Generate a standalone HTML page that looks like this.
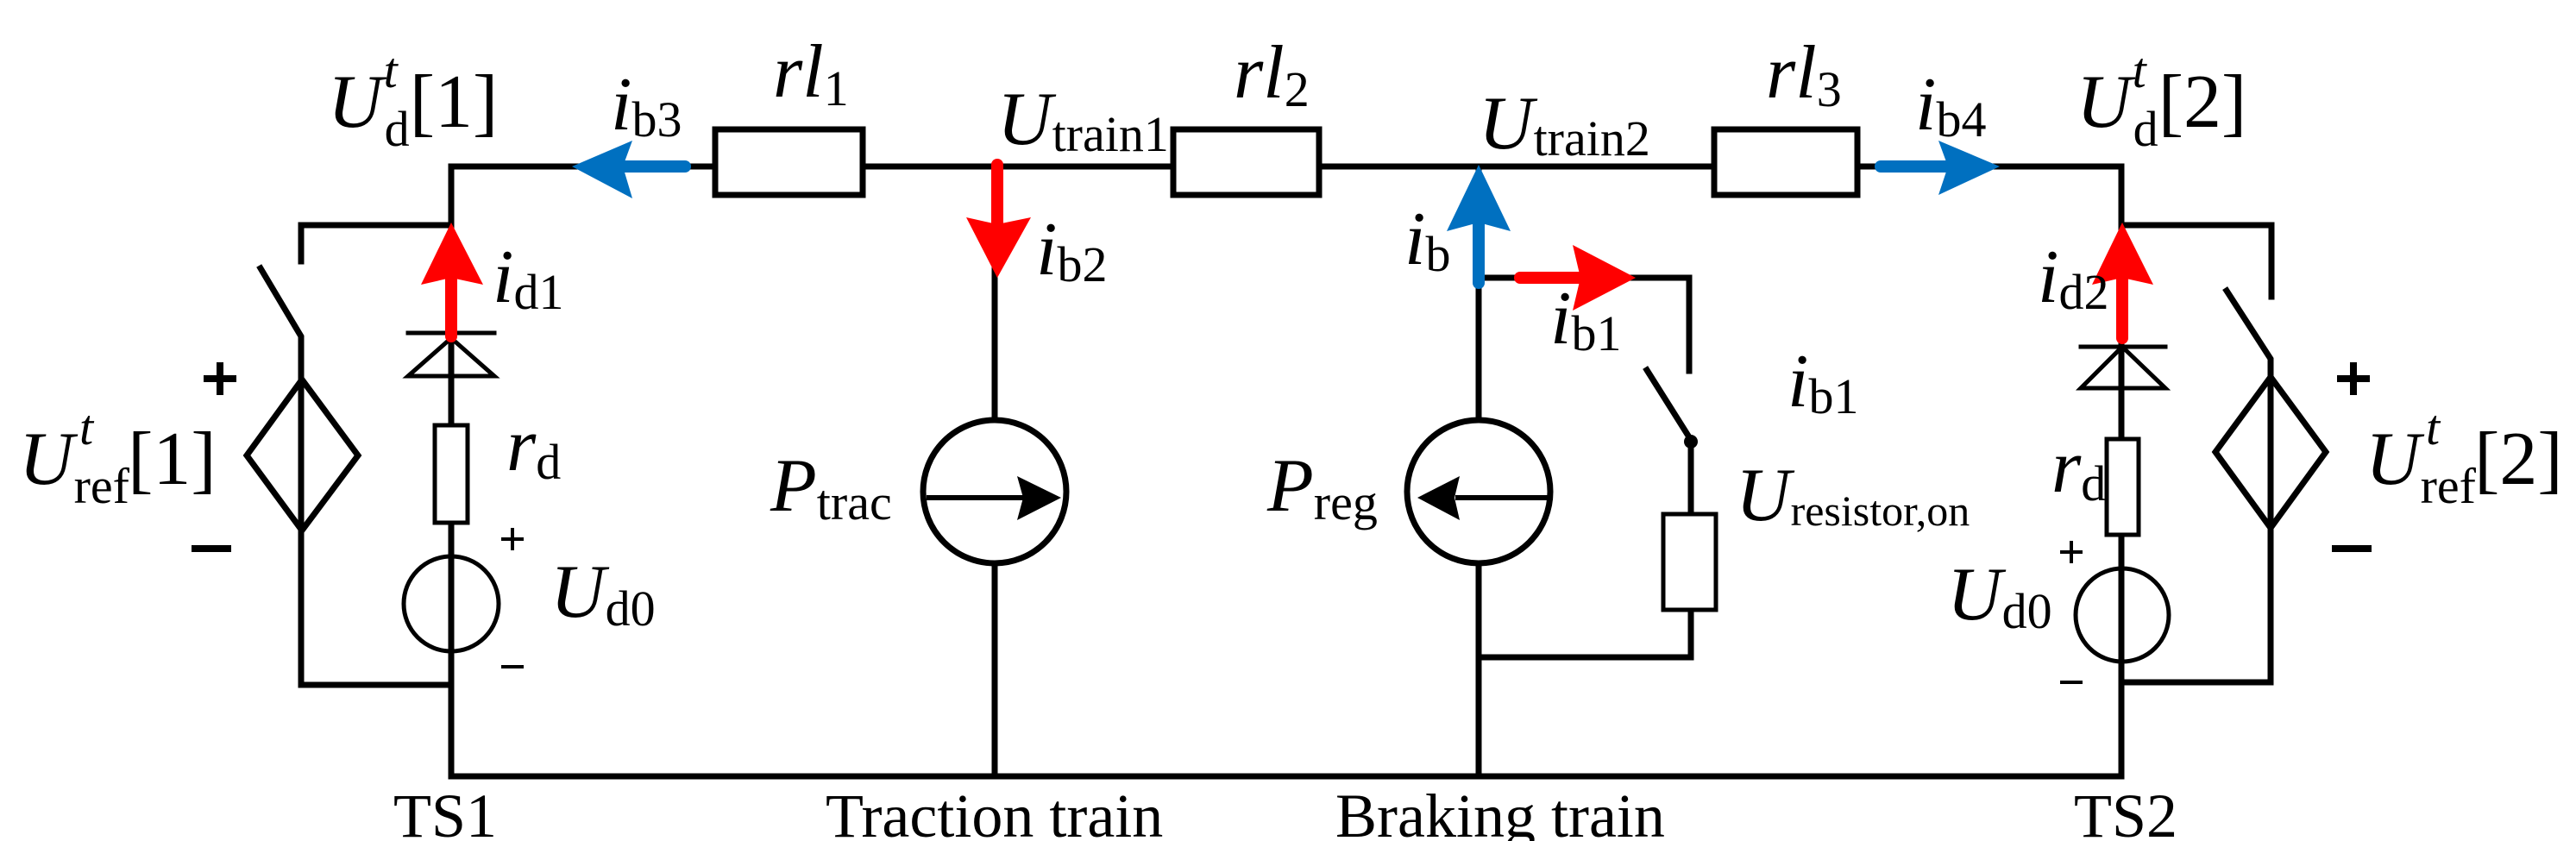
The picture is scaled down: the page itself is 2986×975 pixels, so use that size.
<!DOCTYPE html>
<html><head><meta charset="utf-8"><style>
html,body{margin:0;padding:0;background:#fff}
svg{display:block}
text{font-family:"Liberation Serif","DejaVu Serif",serif;fill:#000}
.i{font-style:italic}
</style></head><body>
<svg width="2986" height="975" viewBox="0 0 2986 975" xmlns="http://www.w3.org/2000/svg" font-family="Liberation Serif, DejaVu Serif, serif">
<g stroke="#000" stroke-width="7" fill="none" stroke-linecap="square">
<path d="M523 193 H829 M1000 193 H1360 M1529 193 H1987 M2153 193 H2459"/>
<rect x="829" y="150" width="171" height="76" fill="#fff"/>
<rect x="1360" y="150" width="169" height="76" fill="#fff"/>
<rect x="1987" y="150" width="166" height="76" fill="#fff"/>
<path d="M523 193 V900 H2459 V193"/>
<path d="M1153 193 V900 M1714 193 V900"/>
<path d="M523 261 H349 V303 M302 311 L349 390 V794 H523"/>
<polygon points="350,440 415,528 350,615 286,528"/>
<path d="M240 439 H270 M255 424 V454" stroke-width="8"/>
<path d="M226 636 H264" stroke-width="8"/>
<path d="M523 392 L573 436 H473 Z" stroke-width="5"/>
<path d="M473 386 H573" stroke-width="5"/>
<rect x="504" y="493" width="38" height="113" fill="#fff" stroke-width="5"/>
<circle cx="523" cy="700" r="55" fill="none" stroke-width="5"/>
<path d="M583 625 H605 M594 614 V636 M583 773 H605" stroke-width="4"/>
<path d="M2459 261 H2633 V344 M2581 337 L2632 416 V791 H2459"/>
<polygon points="2632,437 2696,524 2632,612 2568,524"/>
<path d="M2713 439 H2743 M2728 424 V454" stroke-width="8"/>
<path d="M2707 636 H2745" stroke-width="8"/>
<path d="M2460 402 L2510 450 H2412 Z" stroke-width="5"/>
<path d="M2412 402 H2510" stroke-width="5"/>
<rect x="2442" y="509" width="37" height="111" fill="#fff" stroke-width="5"/>
<circle cx="2460" cy="713" r="54" fill="none" stroke-width="5"/>
<path d="M2390 640 H2412 M2401 629 V651 M2390 791 H2412" stroke-width="4"/>
<circle cx="1153" cy="570" r="83" fill="#fff"/>
<path d="M1077 577 H1185" stroke-width="6"/>
<circle cx="1714" cy="570" r="83" fill="#fff"/>
<path d="M1690 577 H1797" stroke-width="6"/>
<path d="M1714 322 H1958 V430 M1909 429 L1960 510 V596 M1960 707 V762 H1714"/>
<rect x="1928" y="596" width="61" height="111" fill="#fff" stroke-width="5"/>
</g>
<circle cx="1960" cy="512" r="8" fill="#000"/>
<polygon points="1230,577 1179,552 1186,577 1179,603" fill="#000"/>
<polygon points="1643,577 1692,552 1686,577 1692,603" fill="#000"/>
<g stroke-linecap="round">
<line x1="794" y1="193" x2="720" y2="193" stroke="#0070c0" stroke-width="14"/>
<polygon points="663,193 733,163 722,193 733,230" fill="#0070c0"/>
<line x1="2180" y1="193" x2="2260" y2="193" stroke="#0070c0" stroke-width="14"/>
<polygon points="2318,193 2247,163 2258,193 2247,226" fill="#0070c0"/>
<line x1="1714" y1="328" x2="1714" y2="255" stroke="#0070c0" stroke-width="14"/>
<polygon points="1714,191 1677,268 1714,258 1751,268" fill="#0070c0"/>
<line x1="523" y1="390" x2="523" y2="315" stroke="#ff0000" stroke-width="14"/>
<polygon points="523,258 488,330 523,322 560,330" fill="#ff0000"/>
<line x1="2460" y1="392" x2="2460" y2="315" stroke="#ff0000" stroke-width="14"/>
<polygon points="2460,258 2425,330 2460,322 2496,330" fill="#ff0000"/>
<line x1="1156" y1="191" x2="1156" y2="265" stroke="#ff0000" stroke-width="14"/>
<polygon points="1156,322 1120,252 1156,260 1195,252" fill="#ff0000"/>
<line x1="1762" y1="322" x2="1835" y2="322" stroke="#ff0000" stroke-width="14"/>
<polygon points="1896,322 1823,284 1832,322 1823,360" fill="#ff0000"/>
</g>
<g font-size="88" font-family="Liberation Serif, DejaVu Serif, serif">
<text x="380" y="147"><tspan class="i">U</tspan><tspan font-size="58" dx="2" dy="22">d</tspan><tspan class="i" font-size="58" dx="-30" dy="-68">t</tspan><tspan dx="14" dy="46">[1]</tspan></text>
<text x="2407" y="147"><tspan class="i">U</tspan><tspan font-size="58" dx="2" dy="22">d</tspan><tspan class="i" font-size="58" dx="-30" dy="-68">t</tspan><tspan dx="14" dy="46">[2]</tspan></text>
<text x="22" y="561"><tspan class="i">U</tspan><tspan font-size="58" dy="22">ref</tspan><tspan class="i" font-size="58" dx="-58" dy="-68">t</tspan><tspan dx="40" dy="46">[1]</tspan></text>
<text x="2742" y="561"><tspan class="i">U</tspan><tspan font-size="58" dy="22">ref</tspan><tspan class="i" font-size="58" dx="-58" dy="-68">t</tspan><tspan dx="40" dy="46">[2]</tspan></text>
<text x="896" y="112"><tspan class="i">rl</tspan><tspan font-size="58" dy="10">1</tspan></text>
<text x="1430" y="113"><tspan class="i">rl</tspan><tspan font-size="58" dy="10">2</tspan></text>
<text x="2047" y="113"><tspan class="i">rl</tspan><tspan font-size="58" dy="10">3</tspan></text>
<text x="1156" y="167"><tspan class="i">U</tspan><tspan font-size="58" dy="8">train1</tspan></text>
<text x="1714" y="172"><tspan class="i">U</tspan><tspan font-size="58" dy="8">train2</tspan></text>
<text x="708" y="150"><tspan class="i">i</tspan><tspan font-size="58" dy="8">b3</tspan></text>
<text x="2220" y="150"><tspan class="i">i</tspan><tspan font-size="58" dy="8">b4</tspan></text>
<text x="571" y="350"><tspan class="i">i</tspan><tspan font-size="58" dy="8">d1</tspan></text>
<text x="2362" y="350"><tspan class="i">i</tspan><tspan font-size="58" dy="8">d2</tspan></text>
<text x="1201" y="318"><tspan class="i">i</tspan><tspan font-size="58" dy="8">b2</tspan></text>
<text x="1628" y="306"><tspan class="i">i</tspan><tspan font-size="58" dy="8">b</tspan></text>
<text x="1797" y="398"><tspan class="i">i</tspan><tspan font-size="58" dy="8">b1</tspan></text>
<text x="2072" y="471"><tspan class="i">i</tspan><tspan font-size="58" dy="8">b1</tspan></text>
<text x="587" y="545"><tspan class="i">r</tspan><tspan font-size="58" dy="10">d</tspan></text>
<text x="2378" y="570"><tspan class="i">r</tspan><tspan font-size="58" dy="10">d</tspan></text>
<text x="638" y="715"><tspan class="i">U</tspan><tspan font-size="58" dy="10">d0</tspan></text>
<text x="2257" y="718"><tspan class="i">U</tspan><tspan font-size="58" dy="10">d0</tspan></text>
<text x="893" y="592"><tspan class="i">P</tspan><tspan font-size="58" dy="10">trac</tspan></text>
<text x="1469" y="592"><tspan class="i">P</tspan><tspan font-size="58" dy="10">reg</tspan></text>
<text x="2012" y="603"><tspan class="i">U</tspan><tspan font-size="50" dy="6">resistor,on</tspan></text>
</g>
<g font-size="72" font-family="Liberation Serif, DejaVu Serif, serif">
<text x="456" y="970">TS1</text>
<text x="957" y="970">Traction train</text>
<text x="1548" y="970">Braking train</text>
<text x="2404" y="970">TS2</text>
</g>
</svg>
</body></html>
